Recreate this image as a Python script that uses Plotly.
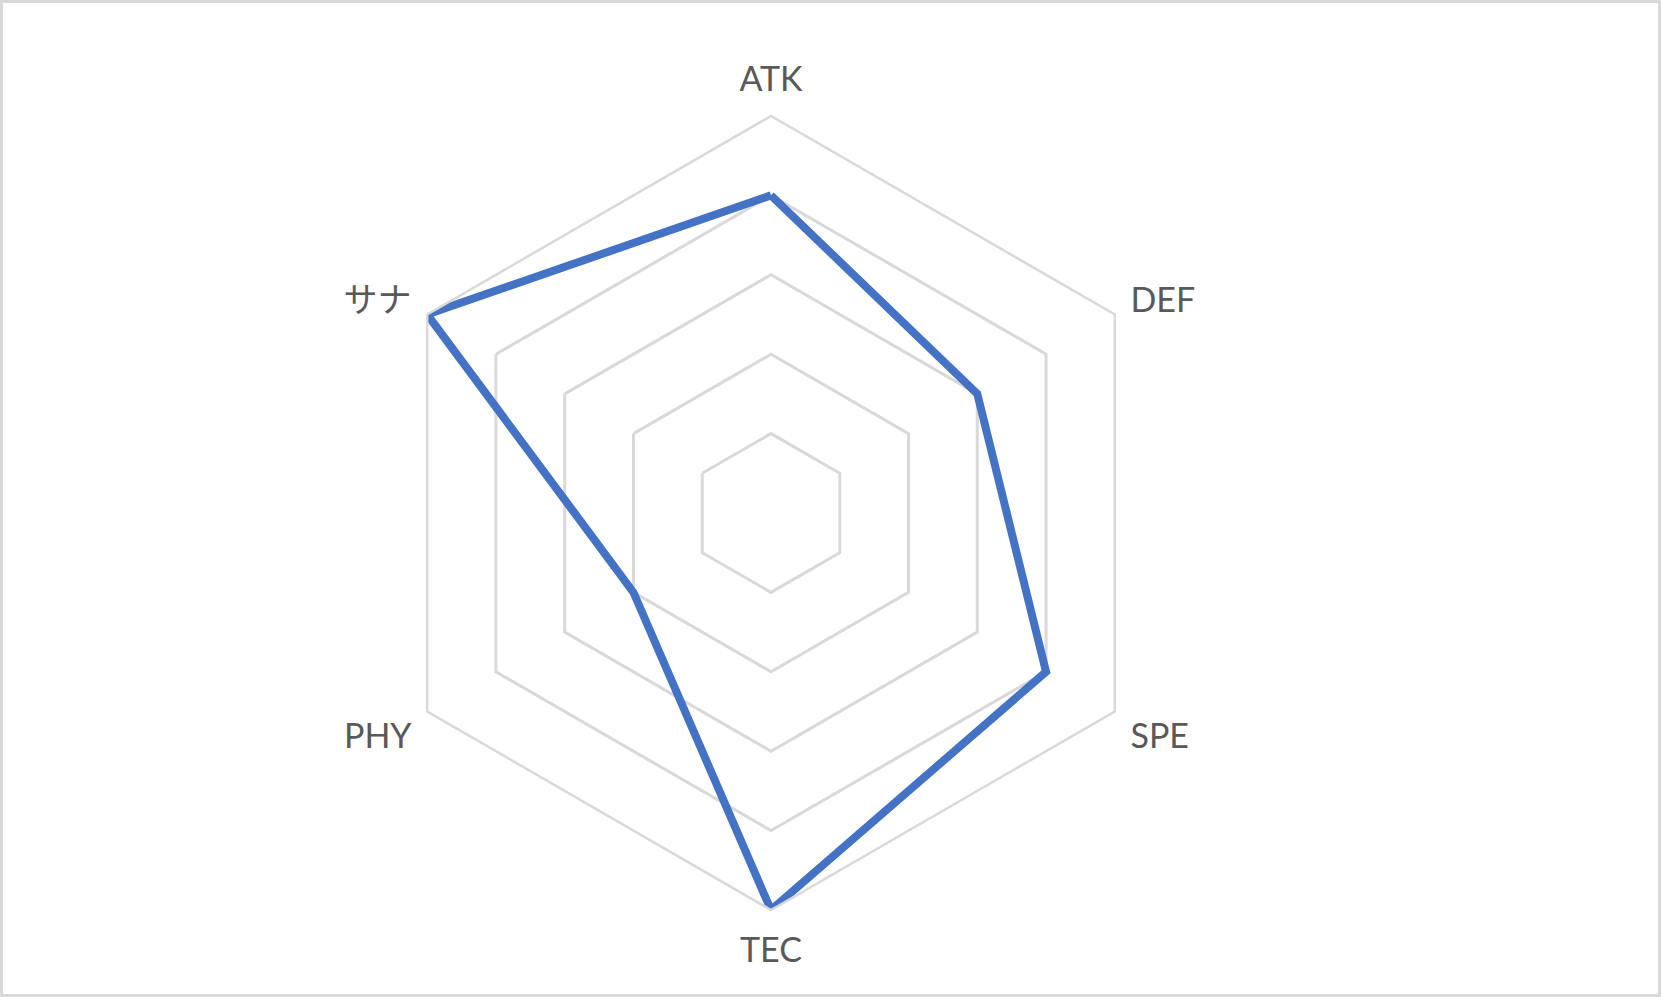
import plotly.graph_objects as go

categories = ["ATK", "DEF", "SPE", "TEC", "PHY", "サナ"]
values = [4, 3, 4, 5, 2, 5]
radial_ticks = [0, 1, 2, 3, 4, 5]

W, H = 1661, 997
cx, cy, R = 771, 513, 397

fig = go.Figure()
fig.add_trace(go.Scatterpolar(
    r=values + values[:1],
    theta=categories + categories[:1],
    mode="lines",
    line=dict(color="#4472C4", width=8),
    showlegend=False,
    hoverinfo="skip",
))

fig.update_layout(
    width=W, height=H,
    margin=dict(l=0, r=0, t=0, b=0),
    paper_bgcolor="white",
    plot_bgcolor="white",
    font=dict(family="Lato, 'Noto Sans CJK JP', sans-serif", color="#595959", size=34),
    polar=dict(
        domain=dict(x=[(cx - R) / W, (cx + R) / W], y=[(H - cy - R) / H, (H - cy + R) / H]),
        bgcolor="white",
        gridshape="linear",
        radialaxis=dict(
            range=[0, 5], tickvals=radial_ticks, showticklabels=False,
            showline=False, ticks="", gridcolor="#D9D9D9", gridwidth=2.5,
        ),
        angularaxis=dict(
            rotation=90, direction="clockwise",
            showgrid=False, showline=True, linecolor="#D9D9D9", linewidth=2.5,
            ticks="outside", ticklen=10, tickcolor="rgba(0,0,0,0)",
            tickfont=dict(size=34, color="#595959"),
        ),
    ),
    shapes=[dict(type="rect", xref="paper", yref="paper",
                 x0=1.5 / W, x1=1 - 1.5 / W, y0=1.5 / H, y1=1 - 1.5 / H,
                 line=dict(color="#D9D9D9", width=3))],
)

fig.write_html(
    "out.html",
    config={"displayModeBar": False},
    post_script="document.body.style.margin='0';document.body.style.overflow='hidden';",
)
